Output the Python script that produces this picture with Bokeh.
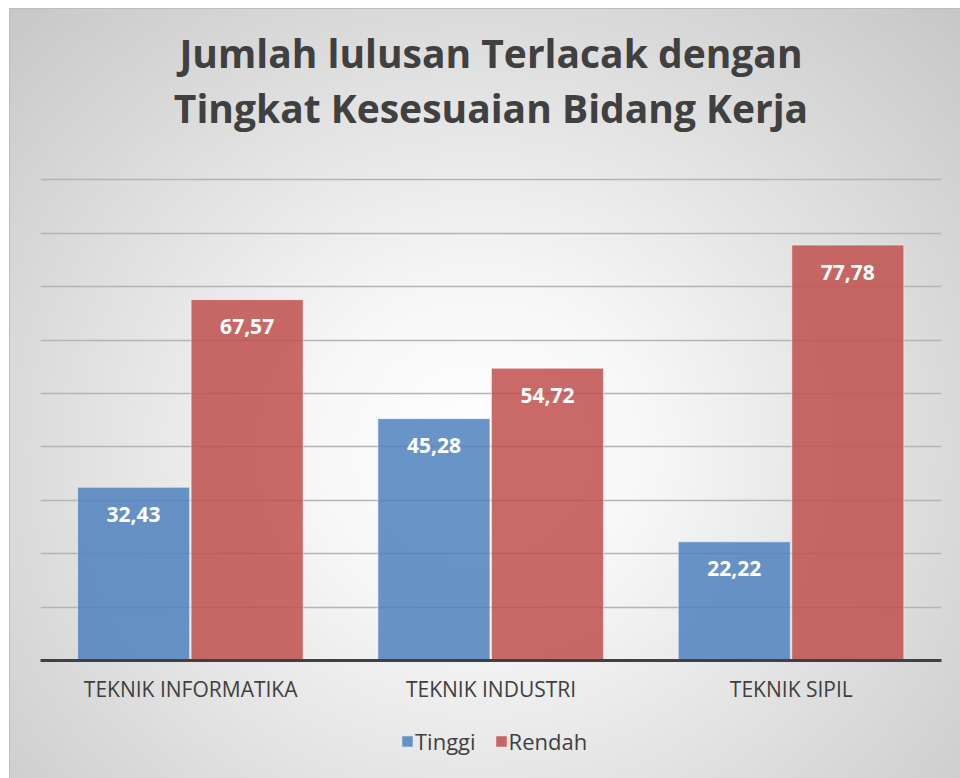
from bokeh.plotting import figure
from bokeh.layouts import column
from bokeh.models import (ColumnDataSource, FactorRange, Range1d, FixedTicker,
                          Legend, LegendItem, Title)
from bokeh.transform import dodge
from bokeh.core.properties import value
from bokeh.embed import file_html
from bokeh.resources import INLINE

# ---- data ----
categories = ["TEKNIK INFORMATIKA", "TEKNIK INDUSTRI", "TEKNIK SIPIL"]
tinggi = [32.43, 45.28, 22.22]
rendah = [67.57, 54.72, 77.78]
series_names = ["Tinggi", "Rendah"]
grid_ticks = [10, 20, 30, 40, 50, 60, 70, 80, 90]
title_lines = ["Jumlah lulusan Terlacak dengan", "Tingkat Kesesuaian Bidang Kerja"]

def fmt(v):
    return f"{v:.2f}".replace(".", ",")

src = ColumnDataSource(dict(
    cat=categories,
    tinggi=tinggi,
    rendah=rendah,
    tinggi_lbl=[fmt(v) for v in tinggi],
    rendah_lbl=[fmt(v) for v in rendah],
))

BLUE = "#4F81BD"
RED = "#C0504D"
FONT = "Open Sans"
TXT = "#404040"

def blank(fig):
    fig.axis.visible = False
    fig.grid.grid_line_color = None

# ---- title strip ----
tf = figure(
    width=960, height=174, x_range=Range1d(0, 1), y_range=Range1d(0, 1),
    output_backend="svg", toolbar_location=None,
    min_border_left=40, min_border_right=19,
    min_border_top=133, min_border_bottom=0,
    border_fill_alpha=0, background_fill_alpha=0, outline_line_color=None,
)
blank(tf)
tf.add_layout(Title(text=title_lines[1], align="center", text_font=FONT,
                    text_font_size="39px", text_font_style="bold",
                    text_color=TXT, standoff=0), "above")
tf.add_layout(Title(text=title_lines[0], align="center", text_font=FONT,
                    text_font_size="39px", text_font_style="bold",
                    text_color=TXT, standoff=0), "above")

# ---- main chart ----
p = figure(
    width=960, height=546,
    x_range=FactorRange(*categories, range_padding=0),
    y_range=Range1d(0, 91),
    output_backend="svg", toolbar_location=None,
    min_border_left=40, min_border_right=19,
    min_border_top=0, min_border_bottom=60,
    border_fill_alpha=0, background_fill_alpha=0,
    outline_line_color=None,
)

p.yaxis.visible = False
p.xgrid.grid_line_color = None
p.ygrid.ticker = FixedTicker(ticks=grid_ticks)
p.ygrid.grid_line_color = "#B4B4B4"
p.ygrid.grid_line_width = 1.3

r1 = p.vbar(x=dodge("cat", -0.19, range=p.x_range), top="tinggi", width=0.373,
            source=src, fill_color=BLUE, fill_alpha=0.85,
            line_color="#FFFFFF", line_alpha=0.5, line_width=1)
r2 = p.vbar(x=dodge("cat", 0.188, range=p.x_range), top="rendah", width=0.373,
            source=src, fill_color=RED, fill_alpha=0.85,
            line_color="#FFFFFF", line_alpha=0.5, line_width=1)

p.text(x=dodge("cat", -0.19, range=p.x_range), y="tinggi", text="tinggi_lbl",
       source=src, text_align="center", text_baseline="middle", y_offset=27,
       text_font=value(FONT), text_font_style="bold", text_font_size="21px",
       text_color="#FFFFFF")
p.text(x=dodge("cat", 0.188, range=p.x_range), y="rendah", text="rendah_lbl",
       source=src, text_align="center", text_baseline="middle", y_offset=27,
       text_font=value(FONT), text_font_style="bold", text_font_size="21px",
       text_color="#FFFFFF")

ax = p.xaxis[0]
ax.axis_line_color = "#404040"
ax.axis_line_width = 3
ax.major_tick_line_color = None
ax.minor_tick_line_color = None
ax.major_label_text_font = FONT
ax.major_label_text_font_size = "21px"
ax.major_label_text_color = TXT
ax.major_label_standoff = 8

# ---- legend strip ----
lg = figure(
    width=960, height=58,
    x_range=FactorRange(*categories, range_padding=0), y_range=Range1d(0, 1),
    output_backend="svg", toolbar_location=None,
    min_border_left=40, min_border_right=19, min_border_top=0, min_border_bottom=0,
    border_fill_alpha=0, background_fill_alpha=0, outline_line_color=None,
)
blank(lg)
k1 = lg.vbar(x="cat", top="tinggi", width=0.373, source=src, visible=False,
             fill_color=BLUE, fill_alpha=0.85, line_color="#FFFFFF", line_alpha=0.5)
k2 = lg.vbar(x="cat", top="rendah", width=0.373, source=src, visible=False,
             fill_color=RED, fill_alpha=0.85, line_color="#FFFFFF", line_alpha=0.5)
legend = Legend(items=[LegendItem(label=series_names[0], renderers=[k1]),
                       LegendItem(label=series_names[1], renderers=[k2])],
                orientation="horizontal", location=(356, 18),
                label_text_font=FONT, label_text_font_size="22px",
                label_text_color=TXT, glyph_width=14, glyph_height=14,
                label_standoff=1, spacing=18, padding=4, margin=0,
                inactive_fill_alpha=0, click_policy="none",
                background_fill_alpha=0, border_line_alpha=0)
lg.add_layout(legend, "center")

layout = column(
    tf, p, lg, spacing=0,
    styles={
        "background": "radial-gradient(ellipse farthest-corner at 50% 58%, #FFFFFF 0%, #F7F7F7 25%, #C6C6C6 100%)",
        "box-shadow": "inset 9px 8px 0 0 #FFFFFF, inset 10px 9px 0 0 #BDBDBD",
    },
)

html = file_html(layout, INLINE)
open("out.html", "w").write(html)
